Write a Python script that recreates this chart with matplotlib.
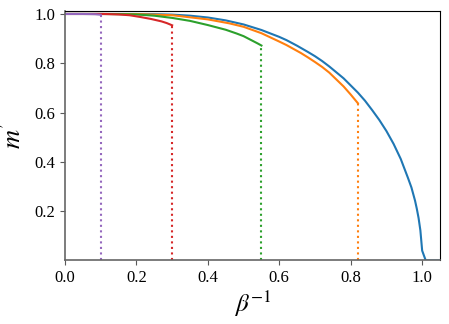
import matplotlib
matplotlib.use("Agg")
import matplotlib.pyplot as plt

plt.rcParams['font.family'] = 'serif'
plt.rcParams['font.serif'] = ['Liberation Serif', 'DejaVu Serif']
plt.rcParams['mathtext.fontset'] = 'stix'

# Blue curve (full magnetization curve)
t_blue = [0.0, 0.1, 0.2, 0.25, 0.3, 0.35, 0.4, 0.45, 0.5, 0.55, 0.6, 0.62, 0.65,
          0.68, 0.7, 0.72, 0.74, 0.76, 0.78, 0.8, 0.82, 0.84, 0.86, 0.88, 0.9,
          0.92, 0.94, 0.96, 0.97, 0.98, 0.985, 0.99, 0.995, 1.0, 1.01, 1.05]
m_blue = [1.0, 1.0, 0.9999, 0.9993, 0.9974, 0.9931, 0.9857, 0.974, 0.9575, 0.935,
          0.907, 0.894, 0.871, 0.846, 0.8286, 0.809, 0.787, 0.763, 0.739, 0.710,
          0.681, 0.648, 0.610, 0.570, 0.525, 0.473, 0.412, 0.336, 0.296, 0.243,
          0.210, 0.172, 0.122, 0.04, 0.0, 0.0]

# Orange curve (ends at 0.82)
t_orange = [0.0, 0.1, 0.2, 0.3, 0.4, 0.46, 0.5, 0.55, 0.6, 0.62, 0.66, 0.68,
            0.7, 0.72, 0.74, 0.76, 0.78, 0.8, 0.82]
m_orange = [1.0, 1.0, 0.9995, 0.995, 0.978, 0.962, 0.948, 0.922, 0.888, 0.874,
            0.842, 0.824, 0.805, 0.785, 0.762, 0.734, 0.706, 0.673, 0.638]

# Green curve (ends at 0.55)
t_green = [0.0, 0.1, 0.15, 0.2, 0.25, 0.3, 0.35, 0.4, 0.45, 0.48, 0.5, 0.52,
           0.54, 0.55]
m_green = [1.0, 1.0, 0.9995, 0.998, 0.993, 0.984, 0.972, 0.955, 0.936, 0.921,
           0.910, 0.895, 0.880, 0.872]

# Red curve (ends at 0.30)
t_red = [0.0, 0.1, 0.12, 0.15, 0.18, 0.21, 0.24, 0.27, 0.285, 0.3]
m_red = [1.0, 1.0, 0.9995, 0.998, 0.995, 0.988, 0.980, 0.970, 0.963, 0.954]

# Purple curve (ends at 0.10)
t_purple = [0.0, 0.05, 0.07, 0.085, 0.1]
m_purple = [1.0, 1.0, 0.9995, 0.999, 0.997]

xticks = [0.0, 0.2, 0.4, 0.6, 0.8, 1.0]
yticks = [0.2, 0.4, 0.6, 0.8, 1.0]

fig = plt.figure(figsize=(4.49, 3.24), dpi=100)
ax = fig.add_axes([0.1448, 0.196, 0.8352, 0.770])

series = [
    (t_blue, m_blue, 'C0', False),
    (t_orange, m_orange, 'C1', True),
    (t_green, m_green, 'C2', True),
    (t_red, m_red, 'C3', True),
    (t_purple, m_purple, 'C4', True),
]
for t, m, c, end in series:
    ax.plot(t, m, color=c, lw=1.5)
for t, m, c, end in series:
    if end:
        ax.plot([t[-1], t[-1]], [0, m[-1]], color=c, lw=1.5, ls=':')

ax.set_xlim(0, 1.05)
ax.set_ylim(0, 1.012)
ax.set_xticks(xticks)
ax.set_yticks(yticks)
ax.tick_params(labelsize=12, colors='0.35', labelcolor='black')
for s in ['left', 'bottom']:
    ax.spines[s].set_color('0.4')
    ax.spines[s].set_linewidth(1.2)
ax.set_xlabel(r'$\beta^{-1}$', fontsize=18, labelpad=2)
ax.set_ylabel(r"$m'$", fontsize=19, labelpad=6)

fig.savefig('out.png', dpi=100)
